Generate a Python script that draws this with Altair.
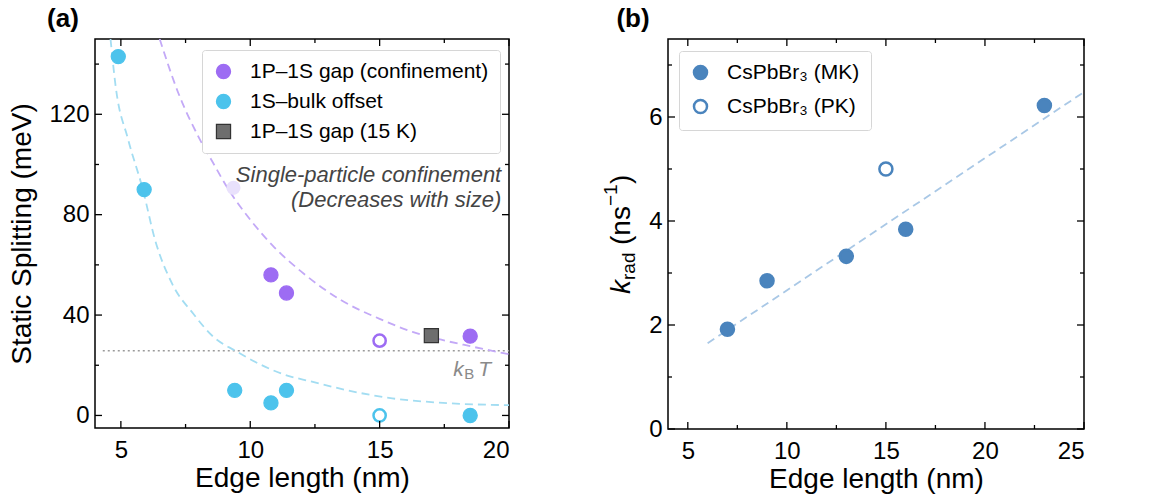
import altair as alt
import pandas as pd

FONT = "Liberation Sans"

# ---------------- Panel (a) data ----------------
conf_x = [10.8, 11.4, 18.5]
conf_y = [56.0, 48.8, 31.6]
off_x = [4.9, 5.9, 9.4, 10.8, 11.4, 18.5]
off_y = [143.0, 90.0, 10.0, 5.0, 10.0, 0.0]
k15_x = [17.0]
k15_y = [31.8]
open_conf_x = [15.0]
open_conf_y = [29.8]
open_off_x = [15.0]
open_off_y = [0.0]
faded_x = [9.35]
faded_y = [90.7]
series_a = ["1P\u20131S gap (confinement)", "1S\u2013bulk offset", "1P\u20131S gap (15 K)"]

conf_curve_x = [6.5, 7.2, 8.0, 8.6, 9.1, 10.0, 10.93, 11.95, 13.5, 15.0, 16.3, 17.25, 18.5, 20.0]
conf_curve_y = [150.0, 129.0, 111.0, 100.0, 91.0, 78.0, 67.0, 57.5, 46.0, 38.5, 33.2, 30.5, 27.6, 24.4]
off_curve_x = [4.6, 4.8, 5.28, 5.85, 6.32, 6.98, 7.8, 8.6, 9.42, 10.35, 11.4, 12.33, 13.85, 15.49, 16.9, 18.18, 20.0]
off_curve_y = [150.0, 131.0, 110.0, 90.0, 70.0, 52.5, 40.5, 31.1, 25.8, 20.5, 16.0, 13.6, 9.8, 6.8, 5.4, 4.6, 4.1]
kbt_value = [25.8]
kbt_span = [4.3, 20.0]

ax_xticks_major = [5, 10, 15, 20]
ax_xticks_minor = [7.5, 12.5, 17.5]
ax_yticks_major = [0, 40, 80, 120]
ax_yticks_minor = [20, 60, 100, 140]

annot_text = ["Single-particle confinement", "(Decreases with size)"]
annot_x = [19.7, 19.7]
annot_y = [96.0, 86.0]

# ---------------- Panel (b) data ----------------
mk_x = [7, 9, 13, 16, 23]
mk_y = [1.92, 2.85, 3.32, 3.84, 6.22]
pk_x = [15]
pk_y = [5.0]
fit_x = [6.0, 25.0]
fit_y = [1.65, 6.48]
series_b = ["CsPbBr\u2083 (MK)", "CsPbBr\u2083 (PK)"]

bx_ticks_major = [5, 10, 15, 20, 25]
bx_ticks_minor = [7.5, 12.5, 17.5, 22.5]
by_ticks_major = [0, 2, 4, 6]
by_ticks_minor = [1, 3, 5, 7]

# ---------------- colours ----------------
PURPLE = "#9d6cf3"
CYAN = "#4cc3ec"
PURPLE_L = "#c3a9f7"
CYAN_L = "#a3ddf2"
GRAY_SQ = "#6e6e6e"
BLUE = "#4a84bd"
BLUE_L = "#a9c8e6"

WA, HA = 414, 389
WB, HB = 416, 390


def tick_layers(XF, YF, xmaj, xmin, ymaj, ymin, W, H):
    layers = []
    for vals, ln in ((xmaj, 7), (xmin, 4)):
        d = pd.DataFrame({"v": vals})
        base = alt.Chart(d).mark_rule(color="black", strokeWidth=1.3)
        layers.append(base.encode(x=XF("v"), y=alt.value(H), y2=alt.value(H - ln)))
        layers.append(base.encode(x=XF("v"), y=alt.value(0), y2=alt.value(ln)))
    for vals, ln in ((ymaj, 7), (ymin, 4)):
        d = pd.DataFrame({"v": vals})
        base = alt.Chart(d).mark_rule(color="black", strokeWidth=1.3)
        layers.append(base.encode(y=YF("v"), x=alt.value(0), x2=alt.value(ln)))
        layers.append(base.encode(y=YF("v"), x=alt.value(W), x2=alt.value(W - ln)))
    return layers


# ================= Panel (a) =================
xa = alt.Scale(domain=[4, 20], nice=False, zero=False)
ya = alt.Scale(domain=[-5, 150], nice=False, zero=False)
axa_x = alt.Axis(title="Edge length (nm)", values=ax_xticks_major, labelPadding=10, titlePadding=2)
axa_y = alt.Axis(title="Static Splitting (meV)", values=ax_yticks_major, titlePadding=12)


def XA(f):
    return alt.X(f, type="quantitative", scale=xa, axis=axa_x)


def YA(f):
    return alt.Y(f, type="quantitative", scale=ya, axis=axa_y)


kbt_df = pd.DataFrame({"x1": [kbt_span[0]], "x2": [kbt_span[1]], "y": kbt_value})
kbt = alt.Chart(kbt_df).mark_rule(color="#9a9a9a", strokeWidth=1.5, strokeDash=[2, 3]).encode(
    x=XA("x1"), x2="x2", y=YA("y"))

conf_curve = alt.Chart(pd.DataFrame({"x": conf_curve_x, "y": conf_curve_y})).mark_line(
    color=PURPLE_L, strokeWidth=1.8, strokeDash=[8, 5], clip=True, interpolate="monotone").encode(
    x=XA("x"), y=YA("y"))
off_curve = alt.Chart(pd.DataFrame({"x": off_curve_x, "y": off_curve_y})).mark_line(
    color=CYAN_L, strokeWidth=1.8, strokeDash=[8, 5], clip=True, interpolate="monotone").encode(
    x=XA("x"), y=YA("y"))

pts_a = pd.DataFrame({
    "x": conf_x + off_x + k15_x,
    "y": conf_y + off_y + k15_y,
    "s": [series_a[0]] * len(conf_x) + [series_a[1]] * len(off_x) + [series_a[2]] * len(k15_x),
})
leg_a = alt.Legend(orient="none", legendX=107, legendY=11, title=None, labelFont=FONT, labelFontSize=21,
                   labelColor="black", labelLimit=500, padding=11, rowPadding=8,
                   strokeColor="#d6d6d6", fillColor="white", cornerRadius=3, labelOffset=16,
                   symbolStrokeWidth=1.2)
main_a = alt.Chart(pts_a).mark_point(filled=True, opacity=1, strokeWidth=1.2).encode(
    x=XA("x"), y=YA("y"),
    color=alt.Color("s:N", scale=alt.Scale(domain=series_a, range=[PURPLE, CYAN, GRAY_SQ]), legend=leg_a),
    shape=alt.Shape("s:N", scale=alt.Scale(domain=series_a, range=["circle", "circle", "square"]), legend=leg_a),
    stroke=alt.Stroke("s:N", scale=alt.Scale(domain=series_a, range=[PURPLE, CYAN, "#333333"]), legend=leg_a),
    size=alt.Size("s:N", scale=alt.Scale(domain=series_a, range=[200, 200, 110]), legend=leg_a),
)
faded = alt.Chart(pd.DataFrame({"x": faded_x, "y": faded_y})).mark_point(
    filled=True, size=200, color="#e9e1fc", opacity=1).encode(x=XA("x"), y=YA("y"))
open_conf = alt.Chart(pd.DataFrame({"x": open_conf_x, "y": open_conf_y})).mark_point(
    filled=False, size=150, color=PURPLE, strokeWidth=2.5, opacity=1).encode(x=XA("x"), y=YA("y"))
open_off = alt.Chart(pd.DataFrame({"x": open_off_x, "y": open_off_y})).mark_point(
    filled=False, size=150, color=CYAN, strokeWidth=2.5, opacity=1).encode(x=XA("x"), y=YA("y"))

annot = alt.Chart(pd.DataFrame({"x": annot_x, "y": annot_y, "t": annot_text})).mark_text(
    font=FONT, fontSize=22, fontStyle="italic", color="#444444", align="right", baseline="middle").encode(
    x=XA("x"), y=YA("y"), text="t:N")

kb_df = pd.DataFrame({"x": [17.85], "y": [18.3]})
kb_k = alt.Chart(kb_df).mark_text(text="k", font=FONT, fontSize=21, fontStyle="italic", color="#8a8a8a",
                                   align="left", baseline="middle").encode(x=XA("x"), y=YA("y"))
kb_b = alt.Chart(kb_df).mark_text(text="B", font=FONT, fontSize=15, color="#8a8a8a",
                                   align="left", baseline="middle", dx=11, dy=4).encode(x=XA("x"), y=YA("y"))
kb_t = alt.Chart(kb_df).mark_text(text="T", font=FONT, fontSize=21, fontStyle="italic", color="#8a8a8a",
                                   align="left", baseline="middle", dx=25).encode(x=XA("x"), y=YA("y"))

lab_a = alt.Chart(pd.DataFrame({"t": ["(a)"]})).mark_text(
    font=FONT, fontSize=26, fontWeight="bold", color="black", align="center", baseline="middle").encode(
    text="t:N", x=alt.value(-32), y=alt.value(-20))

panel_a = alt.layer(
    kbt, conf_curve, off_curve, faded, main_a, open_conf, open_off, annot, kb_k, kb_b, kb_t, lab_a,
    *tick_layers(XA, YA, ax_xticks_major, ax_xticks_minor, ax_yticks_major, ax_yticks_minor, WA, HA)
).properties(width=WA, height=HA)

# ================= Panel (b) =================
xb = alt.Scale(domain=[4, 25], nice=False, zero=False)
yb = alt.Scale(domain=[0, 7.5], nice=False, zero=False)
axb_x = alt.Axis(title="Edge length (nm)", values=bx_ticks_major, labelPadding=10, titlePadding=2)
axb_y = alt.Axis(title=None, values=by_ticks_major)


def XB(f):
    return alt.X(f, type="quantitative", scale=xb, axis=axb_x)


def YB(f):
    return alt.Y(f, type="quantitative", scale=yb, axis=axb_y)


fit = alt.Chart(pd.DataFrame({"x": fit_x, "y": fit_y})).mark_line(
    color=BLUE_L, strokeWidth=1.8, strokeDash=[8, 5]).encode(x=XB("x"), y=YB("y"))

pts_b = pd.DataFrame({
    "x": mk_x + pk_x,
    "y": mk_y + pk_y,
    "g": [series_b[0]] * len(mk_x) + [series_b[1]] * len(pk_x),
})
leg_b = alt.Legend(orient="none", legendX=11, legendY=12, title=None, labelFont=FONT, labelFontSize=21,
                   labelColor="black", labelLimit=500, symbolSize=170, padding=11, rowPadding=9,
                   strokeColor="#d6d6d6", fillColor="white", cornerRadius=3, labelOffset=16,
                   symbolStrokeWidth=2.5)
main_b = alt.Chart(pts_b).mark_point(filled=True, size=170, strokeWidth=2.5, opacity=1, shape="circle").encode(
    x=XB("x"), y=YB("y"),
    fill=alt.Fill("g:N", scale=alt.Scale(domain=series_b, range=[BLUE, "#ffffff"]), legend=leg_b),
    stroke=alt.Stroke("g:N", scale=alt.Scale(domain=series_b, range=[BLUE, BLUE]), legend=leg_b),
)

# y-axis title of (b): k_rad (ns^-1), rotated, built from pieces
yt = pd.DataFrame({"t": ["k", "rad", "(ns", "\u22121", ")"],
                   "dx": [-60, -46, -11, 28, 50],
                   "dy": [0, 7, 0, -11, 0],
                   "fs": [28, 19, 28, 19, 28],
                   "st": ["italic", "normal", "normal", "normal", "normal"]})
ytitle_layers = []
for _, r in yt.iterrows():
    ytitle_layers.append(
        alt.Chart(pd.DataFrame({"t": [r["t"]]})).mark_text(
            font=FONT, fontSize=int(r["fs"]), fontStyle=r["st"], color="black", align="left",
            baseline="middle", angle=270, dx=int(r["dx"]), dy=int(r["dy"])).encode(
            text="t:N", x=alt.value(-46), y=alt.value(HB / 2)))

lab_b = alt.Chart(pd.DataFrame({"t": ["(b)"]})).mark_text(
    font=FONT, fontSize=26, fontWeight="bold", color="black", align="center", baseline="middle").encode(
    text="t:N", x=alt.value(-35), y=alt.value(-20))

panel_b = alt.layer(
    fit, main_b, lab_b, *ytitle_layers,
    *tick_layers(XB, YB, bx_ticks_major, bx_ticks_minor, by_ticks_major, by_ticks_minor, WB, HB)
).properties(width=WB, height=HB)

chart = alt.hconcat(panel_a, panel_b, spacing=159, bounds="flush").resolve_scale(
    color="independent", shape="independent", stroke="independent", fill="independent", size="independent"
).resolve_legend(color="independent", shape="independent", stroke="independent", fill="independent",
                 size="independent").properties(
    padding={"left": 8, "top": 5, "right": 5, "bottom": 5}, background="white"
).configure_view(stroke="black", strokeWidth=1.5).configure_axis(
    labelFont=FONT, titleFont=FONT, labelFontSize=24, titleFontSize=28, labelColor="black", titleColor="black",
    titleFontWeight="normal", grid=False, domain=False, ticks=False, labelPadding=6
)

chart.save("out.html", embed_options={"renderer": "svg", "actions": False})
